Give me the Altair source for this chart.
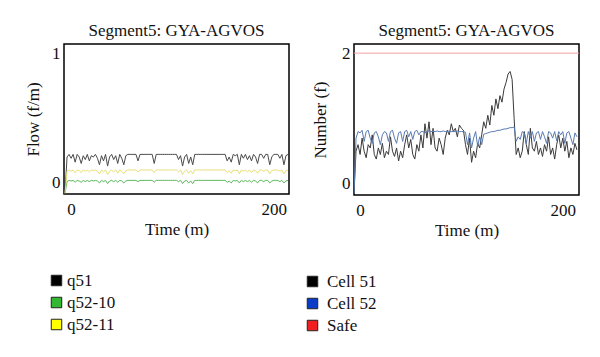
import altair as alt
import pandas as pd

FONT = "Liberation Serif"

# time axis (minutes), shared by all series
TIME = list(range(-6, 216, 2))

# ---- left panel: Flow (f/m)
Q51 = [-0.08, 0.20, 0.22, 0.19, 0.22, 0.16, 0.22, 0.20, 0.15, 0.21,
       0.18, 0.22, 0.17, 0.21, 0.20, 0.22, 0.19, 0.14, 0.21, 0.17,
       0.22, 0.13, 0.20, 0.22, 0.18, 0.21, 0.15, 0.22, 0.19, 0.14,
       0.21, 0.22, 0.22, 0.22, 0.22, 0.22, 0.17, 0.22, 0.22, 0.22,
       0.22, 0.22, 0.22, 0.22, 0.15, 0.22, 0.22, 0.22, 0.22, 0.22,
       0.22, 0.22, 0.22, 0.22, 0.22, 0.22, 0.18, 0.21, 0.13, 0.20,
       0.22, 0.15, 0.20, 0.14, 0.22, 0.22, 0.22, 0.22, 0.22, 0.22,
       0.22, 0.22, 0.22, 0.22, 0.22, 0.22, 0.22, 0.22, 0.22, 0.22,
       0.17, 0.20, 0.16, 0.22, 0.21, 0.22, 0.14, 0.22, 0.19, 0.22,
       0.18, 0.21, 0.17, 0.22, 0.20, 0.15, 0.22, 0.22, 0.19, 0.22,
       0.22, 0.14, 0.20, 0.22, 0.22, 0.22, 0.19, 0.22, 0.14, 0.21, 0.22]

Q52_11 = [-0.08, 0.09, 0.10, 0.09, 0.10, 0.08, 0.10, 0.095, 0.08, 0.10,
          0.09, 0.10, 0.085, 0.10, 0.095, 0.10, 0.09, 0.07, 0.10, 0.085,
          0.10, 0.065, 0.09, 0.10, 0.085, 0.10, 0.075, 0.10, 0.09, 0.07,
          0.095, 0.10, 0.10, 0.10, 0.10, 0.10, 0.085, 0.10, 0.10, 0.10,
          0.10, 0.10, 0.10, 0.10, 0.08, 0.10, 0.10, 0.10, 0.10, 0.10,
          0.10, 0.10, 0.10, 0.10, 0.10, 0.10, 0.085, 0.10, 0.065, 0.09,
          0.10, 0.075, 0.095, 0.07, 0.10, 0.10, 0.10, 0.10, 0.10, 0.10,
          0.10, 0.10, 0.10, 0.10, 0.10, 0.10, 0.10, 0.10, 0.10, 0.10,
          0.08, 0.095, 0.075, 0.10, 0.095, 0.10, 0.07, 0.10, 0.09, 0.10,
          0.085, 0.10, 0.08, 0.10, 0.095, 0.075, 0.10, 0.10, 0.09, 0.10,
          0.10, 0.07, 0.095, 0.10, 0.10, 0.10, 0.09, 0.10, 0.07, 0.095, 0.10]

Q52_10 = [-0.08, 0.01, 0.02, 0.015, 0.02, 0.005, 0.02, 0.015, 0.005, 0.02,
          0.01, 0.02, 0.01, 0.02, 0.015, 0.02, 0.015, 0.0, 0.02, 0.01,
          0.02, -0.005, 0.015, 0.02, 0.01, 0.02, 0.005, 0.02, 0.015, 0.0,
          0.015, 0.02, 0.02, 0.02, 0.02, 0.02, 0.01, 0.02, 0.02, 0.02,
          0.02, 0.02, 0.02, 0.02, 0.005, 0.02, 0.02, 0.02, 0.02, 0.02,
          0.02, 0.02, 0.02, 0.02, 0.02, 0.02, 0.01, 0.02, -0.005, 0.015,
          0.02, 0.0, 0.015, -0.005, 0.02, 0.02, 0.02, 0.02, 0.02, 0.02,
          0.02, 0.02, 0.02, 0.02, 0.02, 0.02, 0.02, 0.02, 0.02, 0.02,
          0.005, 0.015, 0.0, 0.02, 0.015, 0.02, 0.0, 0.02, 0.01, 0.02,
          0.01, 0.02, 0.005, 0.02, 0.015, 0.0, 0.02, 0.02, 0.01, 0.02,
          0.02, 0.0, 0.015, 0.02, 0.02, 0.02, 0.01, 0.02, 0.0, 0.015, 0.02]

# ---- right panel: Number (f)
CELL51 = [-0.15, 0.50, 0.60, 0.45, 0.70, 0.50, 0.40, 0.60, 0.55, 0.75,
          0.45, 0.38, 0.55, 0.45, 0.62, 0.40, 0.50, 0.45, 0.72, 0.50,
          0.42, 0.55, 0.35, 0.50, 0.40, 0.60, 0.75, 0.55, 0.68, 0.45,
          0.38, 0.60, 0.50, 0.75, 0.55, 0.92, 0.70, 0.95, 0.60, 0.85,
          0.55, 0.50, 0.70, 0.60, 0.45, 0.70, 0.82, 0.75, 0.92, 0.80,
          0.85, 0.72, 0.90, 0.85, 0.82, 0.60, 0.45, 0.70, 0.33, 0.50,
          0.40, 0.62, 0.55, 0.75, 0.95, 0.85, 1.05, 0.90, 1.20, 1.05,
          1.30, 1.15, 1.35, 1.25, 1.45, 1.55, 1.68, 1.72, 1.60, 1.00,
          0.45, 0.55, 0.40, 0.50, 0.80, 0.60, 0.45, 0.85, 0.55, 0.50,
          0.65, 0.45, 0.55, 0.42, 0.60, 0.50, 0.72, 0.45, 0.55, 0.38,
          0.60, 0.75, 0.55, 0.70, 0.50, 0.65, 0.40, 0.55, 0.45, 0.62, 0.52]

CELL52 = [-0.15, 0.70, 0.80, 0.78, 0.82, 0.65, 0.80, 0.82, 0.70, 0.62,
          0.78, 0.80, 0.72, 0.60, 0.75, 0.80, 0.78, 0.65, 0.80, 0.82,
          0.70, 0.62, 0.78, 0.80, 0.65, 0.80, 0.82, 0.72, 0.80, 0.68,
          0.80, 0.82, 0.75, 0.80, 0.80, 0.78, 0.80, 0.81, 0.80, 0.80,
          0.80, 0.81, 0.80, 0.80, 0.81, 0.80, 0.80, 0.81, 0.80, 0.80,
          0.80, 0.81, 0.80, 0.80, 0.80, 0.79, 0.60, 0.78, 0.55, 0.70,
          0.80, 0.58, 0.72, 0.60, 0.76, 0.77, 0.78, 0.79, 0.80, 0.80,
          0.81, 0.82, 0.82, 0.83, 0.84, 0.84, 0.85, 0.86, 0.86, 0.87,
          0.65, 0.72, 0.68, 0.80, 0.78, 0.62, 0.80, 0.70, 0.80, 0.65,
          0.78, 0.80, 0.68, 0.80, 0.72, 0.62, 0.80, 0.78, 0.70, 0.80,
          0.66, 0.80, 0.75, 0.80, 0.62, 0.78, 0.80, 0.70, 0.60, 0.78, 0.72]

SAFE_TIME = [-6, 216]
SAFE = [2.0, 2.0]

LEFT_NAMES = ["q51", "q52-10", "q52-11"]
LEFT_LINE_COLORS = ["#4a4a4a", "#5cb85c", "#e8df7a"]
LEFT_KEY_COLORS = ["#000000", "#33b833", "#ffff00"]

RIGHT_NAMES = ["Cell 51", "Cell 52", "Safe"]
RIGHT_LINE_COLORS = ["#3a3a3a", "#5a7bb0", "#f2a0a0"]
RIGHT_KEY_COLORS = ["#000000", "#0a3cc8", "#ee2020"]

TITLE = "Segment5: GYA-AGVOS"

left_df = pd.concat([
    pd.DataFrame({"t": TIME, "v": Q51, "series": "q51"}),
    pd.DataFrame({"t": TIME, "v": Q52_10, "series": "q52-10"}),
    pd.DataFrame({"t": TIME, "v": Q52_11, "series": "q52-11"}),
])
right_df = pd.concat([
    pd.DataFrame({"t": TIME, "v": CELL51, "series": "Cell 51"}),
    pd.DataFrame({"t": TIME, "v": CELL52, "series": "Cell 52"}),
    pd.DataFrame({"t": SAFE_TIME, "v": SAFE, "series": "Safe"}),
])


def panel(df, names, line_colors, key_colors, ydom, yvals, ytitle, xdom,
          lx, ly, ytitlepad, loff):
    xenc = alt.X("t:Q", scale=alt.Scale(domain=xdom, nice=False, zero=False),
                 axis=alt.Axis(values=[0, 200], title="Time (m)", format="d"))
    yenc = alt.Y("v:Q", scale=alt.Scale(domain=ydom, nice=False, zero=False),
                 axis=alt.Axis(values=yvals, title=ytitle, titlePadding=ytitlepad,
                               format="d"))
    lines = alt.Chart(df).mark_line(strokeWidth=1, clip=True).encode(
        x=xenc, y=yenc,
        stroke=alt.Stroke("series:N", scale=alt.Scale(domain=names, range=line_colors),
                          legend=None),
        order="t:Q",
    )
    key = alt.Chart(pd.DataFrame({"series": names})).transform_filter(
        "datum.series == 'none'"
    ).mark_square(stroke="#222222", strokeWidth=1, opacity=1).encode(
        fill=alt.Fill("series:N", scale=alt.Scale(domain=names, range=key_colors),
                      legend=alt.Legend(title=None, orient="none", legendX=lx, legendY=ly,
                                        labelOffset=loff))
    )
    return alt.layer(lines, key).resolve_scale(fill="independent", stroke="independent")


left = panel(left_df, LEFT_NAMES, LEFT_LINE_COLORS, LEFT_KEY_COLORS,
             [-0.085, 1.07], [0, 1], "Flow (f/m)", [-7, 215], -16, 228, 9, 2).properties(
    width=225, height=150, title=TITLE)
right = panel(right_df, RIGHT_NAMES, RIGHT_LINE_COLORS, RIGHT_KEY_COLORS,
              [-0.17, 2.14], [0, 2], "Number (f)", [-6, 216], -50, 229, 12, 6).properties(
    width=225, height=151, title=TITLE)

chart = alt.hconcat(left, right, spacing=13).resolve_scale(
    fill="independent", stroke="independent"
).resolve_legend(fill="independent").properties(
    padding={"left": 15, "top": 13, "right": 5, "bottom": 5},
    background="white",
).configure_view(
    stroke="black", strokeWidth=1.5
).configure_axis(
    domain=False, ticks=False, grid=False,
    labelFont=FONT, labelFontSize=17, labelColor="#111111",
    titleFont=FONT, titleFontSize=17, titleFontWeight="normal", titleColor="#111111",
).configure_axisX(
    labelPadding=7, titlePadding=4
).configure_axisY(
    labelPadding=4
).configure_legend(
    symbolType="square", symbolSize=110,
    symbolStrokeColor="#222222", symbolStrokeWidth=1, symbolOpacity=1,
    labelFont=FONT, labelFontSize=17, labelColor="#111111",
    rowPadding=4, padding=0,
).configure_title(
    font=FONT, fontSize=17, fontWeight="normal", color="#111111", offset=4, anchor="middle"
)

chart.save("out.html", embed_options={"renderer": "svg", "actions": False})
